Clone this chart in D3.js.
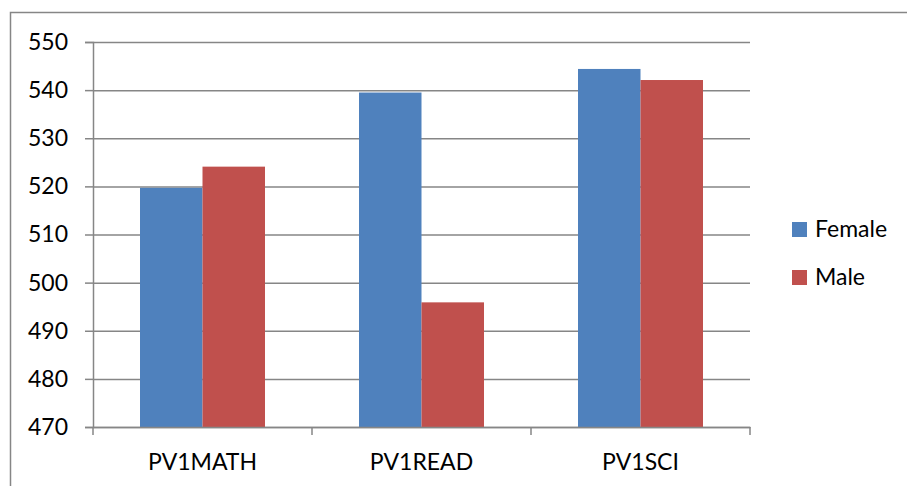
<!DOCTYPE html>
<html>
<head>
<meta charset="utf-8">
<script src="https://cdn.jsdelivr.net/npm/d3@7"></script>
<style>
  html, body { margin: 0; padding: 0; background: #fff; }
  svg { display: block; }
  text { font-family: Lato, "Open Sans", sans-serif; fill: #000; }
</style>
</head>
<body>
<script>
// Mean plausible-value scores by subject and gender
const categories = ["PV1MATH", "PV1READ", "PV1SCI"];
const seriesNames = ["Female", "Male"];
const female = [519.7, 539.5, 544.4];
const male = [524.1, 495.9, 542.1];
const yTicks = [470, 480, 490, 500, 510, 520, 530, 540, 550];
const colors = ["#4F81BD", "#C0504D"];

const W = 907, H = 486;
const plot = { left: 93, right: 750, top: 42, bottom: 427 };
const axisColor = "#868686";
const fontFamily = "Lato, 'Open Sans', sans-serif";

const svg = d3.select("body").append("svg")
  .attr("width", W).attr("height", H);

// Chart-area frame (left and top edges)
svg.append("path")
  .attr("d", `M10.5,${H} V12.5 H${W}`)
  .attr("fill", "none").attr("stroke", axisColor).attr("stroke-width", 1.5);

// Category bands; each bar pair takes 125/219 of its band (gap width 150%)
const x0 = d3.scaleBand().domain(categories)
  .range([plot.left, plot.right]).paddingInner(0).paddingOuter(0);
const pairWidth = x0.bandwidth() * 125 / 219;
const x1 = d3.scaleBand().domain(seriesNames).range([0, pairWidth]);
const y = d3.scaleLinear().domain([470, 550]).range([plot.bottom, plot.top]);

// Value axis, gridlines and left tick marks
const yAxis = d3.axisLeft(y).tickValues(yTicks).tickSize(8).tickPadding(17)
  .tickFormat(d3.format("d"));
const gy = svg.append("g").attr("transform", `translate(${plot.left},0)`).call(yAxis);
gy.select(".domain").attr("stroke", axisColor).attr("stroke-width", 1.5);
gy.selectAll(".tick line").attr("stroke", axisColor).attr("stroke-width", 1.5);
gy.selectAll(".tick text").attr("font-size", 23).attr("font-family", fontFamily)
  .attr("fill", "#000");
gy.selectAll(".tick").append("line")
  .attr("x1", 0).attr("x2", plot.right - plot.left)
  .attr("stroke", axisColor).attr("stroke-width", 1.5);

// Bars
const data = categories.map((c, i) => ({ cat: c, values: [female[i], male[i]] }));
const groups = svg.append("g").selectAll("g").data(data).join("g")
  .attr("transform", d => `translate(${x0(d.cat) + (x0.bandwidth() - pairWidth) / 2},0)`);
groups.selectAll("rect")
  .data(d => d.values.map((v, j) => ({ name: seriesNames[j], v, j })))
  .join("rect")
  .attr("x", d => x1(d.name))
  .attr("width", x1.bandwidth())
  .attr("y", d => y(d.v))
  .attr("height", d => y(470) - y(d.v))
  .attr("fill", d => colors[d.j]);

// Category axis
const xAxis = d3.axisBottom(x0).tickSize(0).tickPadding(27);
const gx = svg.append("g").attr("transform", `translate(0,${plot.bottom})`).call(xAxis);
gx.select(".domain").attr("stroke", axisColor).attr("stroke-width", 1.5);
gx.selectAll(".tick text").attr("font-size", 23).attr("font-family", fontFamily)
  .attr("fill", "#000");
// Boundary ticks between categories
const bounds = categories.map(c => x0(c)).concat([x0(categories[2]) + x0.bandwidth()]);
gx.selectAll(".bound").data(bounds).join("line").attr("class", "bound")
  .attr("x1", d => d).attr("x2", d => d).attr("y1", 0).attr("y2", 8)
  .attr("stroke", axisColor).attr("stroke-width", 1.5);

// Legend
const legend = svg.append("g").attr("transform", "translate(792,222)");
const items = legend.selectAll("g").data(seriesNames).join("g")
  .attr("transform", (d, i) => `translate(0,${i * 48})`);
items.append("rect").attr("width", 15).attr("height", 15)
  .attr("fill", (d, i) => colors[i]);
items.append("text").attr("x", 23).attr("y", 15)
  .attr("font-size", 23).text(d => d);
</script>
</body>
</html>
